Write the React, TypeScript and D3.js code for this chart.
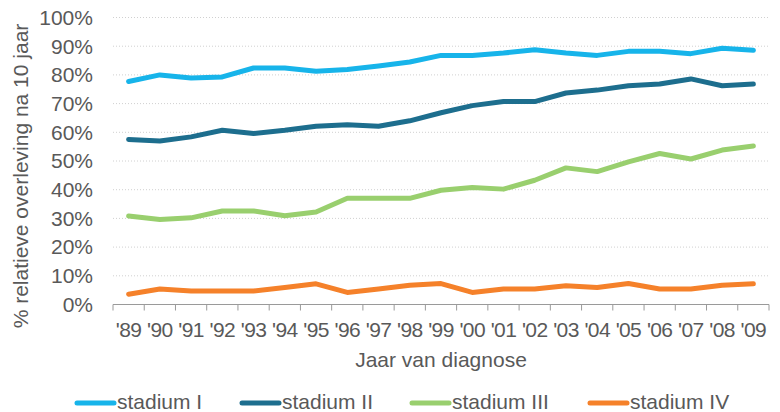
import React from "react";
import * as d3 from "d3";

const years = ["'89","'90","'91","'92","'93","'94","'95","'96","'97","'98","'99","'00","'01","'02","'03","'04","'05","'06","'07","'08","'09"];
const stadiumI = [77.7,80.0,78.9,79.3,82.4,82.4,81.3,81.9,83.1,84.5,86.8,86.8,87.6,88.8,87.6,86.8,88.2,88.2,87.4,89.3,88.6];
const stadiumII = [57.5,57.0,58.4,60.7,59.6,60.7,62.1,62.6,62.1,64.0,66.8,69.3,70.7,70.7,73.7,74.7,76.2,76.8,78.6,76.2,76.8];
const stadiumIII = [30.8,29.6,30.2,32.6,32.6,30.9,32.2,37.0,37.0,37.0,39.8,40.8,40.2,43.3,47.6,46.3,49.7,52.6,50.7,53.8,55.2];
const stadiumIV = [3.6,5.4,4.7,4.7,4.7,5.9,7.2,4.2,5.4,6.7,7.3,4.2,5.4,5.4,6.5,5.9,7.3,5.4,5.4,6.7,7.2];
const seriesNames = ["stadium I","stadium II","stadium III","stadium IV"];
const seriesColors = ["#17B4EA","#1D6E8E","#99CF6E","#F5812A"];
const yTicks = [0,10,20,30,40,50,60,70,80,90,100];

const W = 780, H = 412;
const FONT = "'Liberation Sans', Arial, Helvetica, sans-serif";
const TXT = "#595959";

export default function App() {
  const seriesData = [stadiumI, stadiumII, stadiumIII, stadiumIV];
  const x = d3.scaleBand<string>().domain(years).range([113, 769]);
  const y = d3.scaleLinear().domain([0, 100]).range([304.5, 17.5]);
  const cx = (d: string) => (x(d) as number) + x.bandwidth() / 2;
  const line = d3.line<number>().x((_, i) => cx(years[i])).y((v) => y(v));
  const boundaries = years.map((d) => x(d) as number).concat([769]);

  const legendX = [77, 242, 412, 590];

  return (
    <svg width={W} height={H} style={{ position: "absolute", left: 0, top: 0 }} fontFamily={FONT}>
      <rect width={W} height={H} fill="#fff" />
      {yTicks.filter((t) => t > 0).map((t) => (
        <line key={t} x1={113} x2={769} y1={y(t)} y2={y(t)} stroke="#D0D0D0" strokeWidth={1} strokeDasharray="1 2" />
      ))}
      {yTicks.map((t) => (
        <text key={t} x={93} y={y(t)} dy="0.35em" textAnchor="end" fontSize={21} fill={TXT}>{t}%</text>
      ))}
      <line x1={113} x2={769} y1={y(0)} y2={y(0)} stroke="#9A9A9A" strokeWidth={1} />
      {boundaries.map((b, i) => (
        <line key={i} x1={b} x2={b} y1={y(0)} y2={y(0) + 6} stroke="#9A9A9A" strokeWidth={1} />
      ))}
      {years.map((d) => (
        <text key={d} x={cx(d)} y={337} textAnchor="middle" fontSize={21} fill={TXT} letterSpacing={-0.6}>{d}</text>
      ))}
      <text x={441} y={367} textAnchor="middle" fontSize={21} fill={TXT}>Jaar van diagnose</text>
      <text transform="translate(28,176) rotate(-90)" textAnchor="middle" fontSize={21} fill={TXT}>% relatieve overleving na 10 jaar</text>
      {seriesData.map((s, i) => (
        <path key={i} d={line(s) || ""} fill="none" stroke={seriesColors[i]} strokeWidth={5} strokeLinecap="round" strokeLinejoin="round" />
      ))}
      {seriesNames.map((n, i) => (
        <g key={n}>
          <line x1={legendX[i]} x2={legendX[i] + 37} y1={403} y2={403} stroke={seriesColors[i]} strokeWidth={5} strokeLinecap="round" />
          <text x={legendX[i] + 40} y={409} fontSize={21} fill={TXT}>{n}</text>
        </g>
      ))}
    </svg>
  );
}
